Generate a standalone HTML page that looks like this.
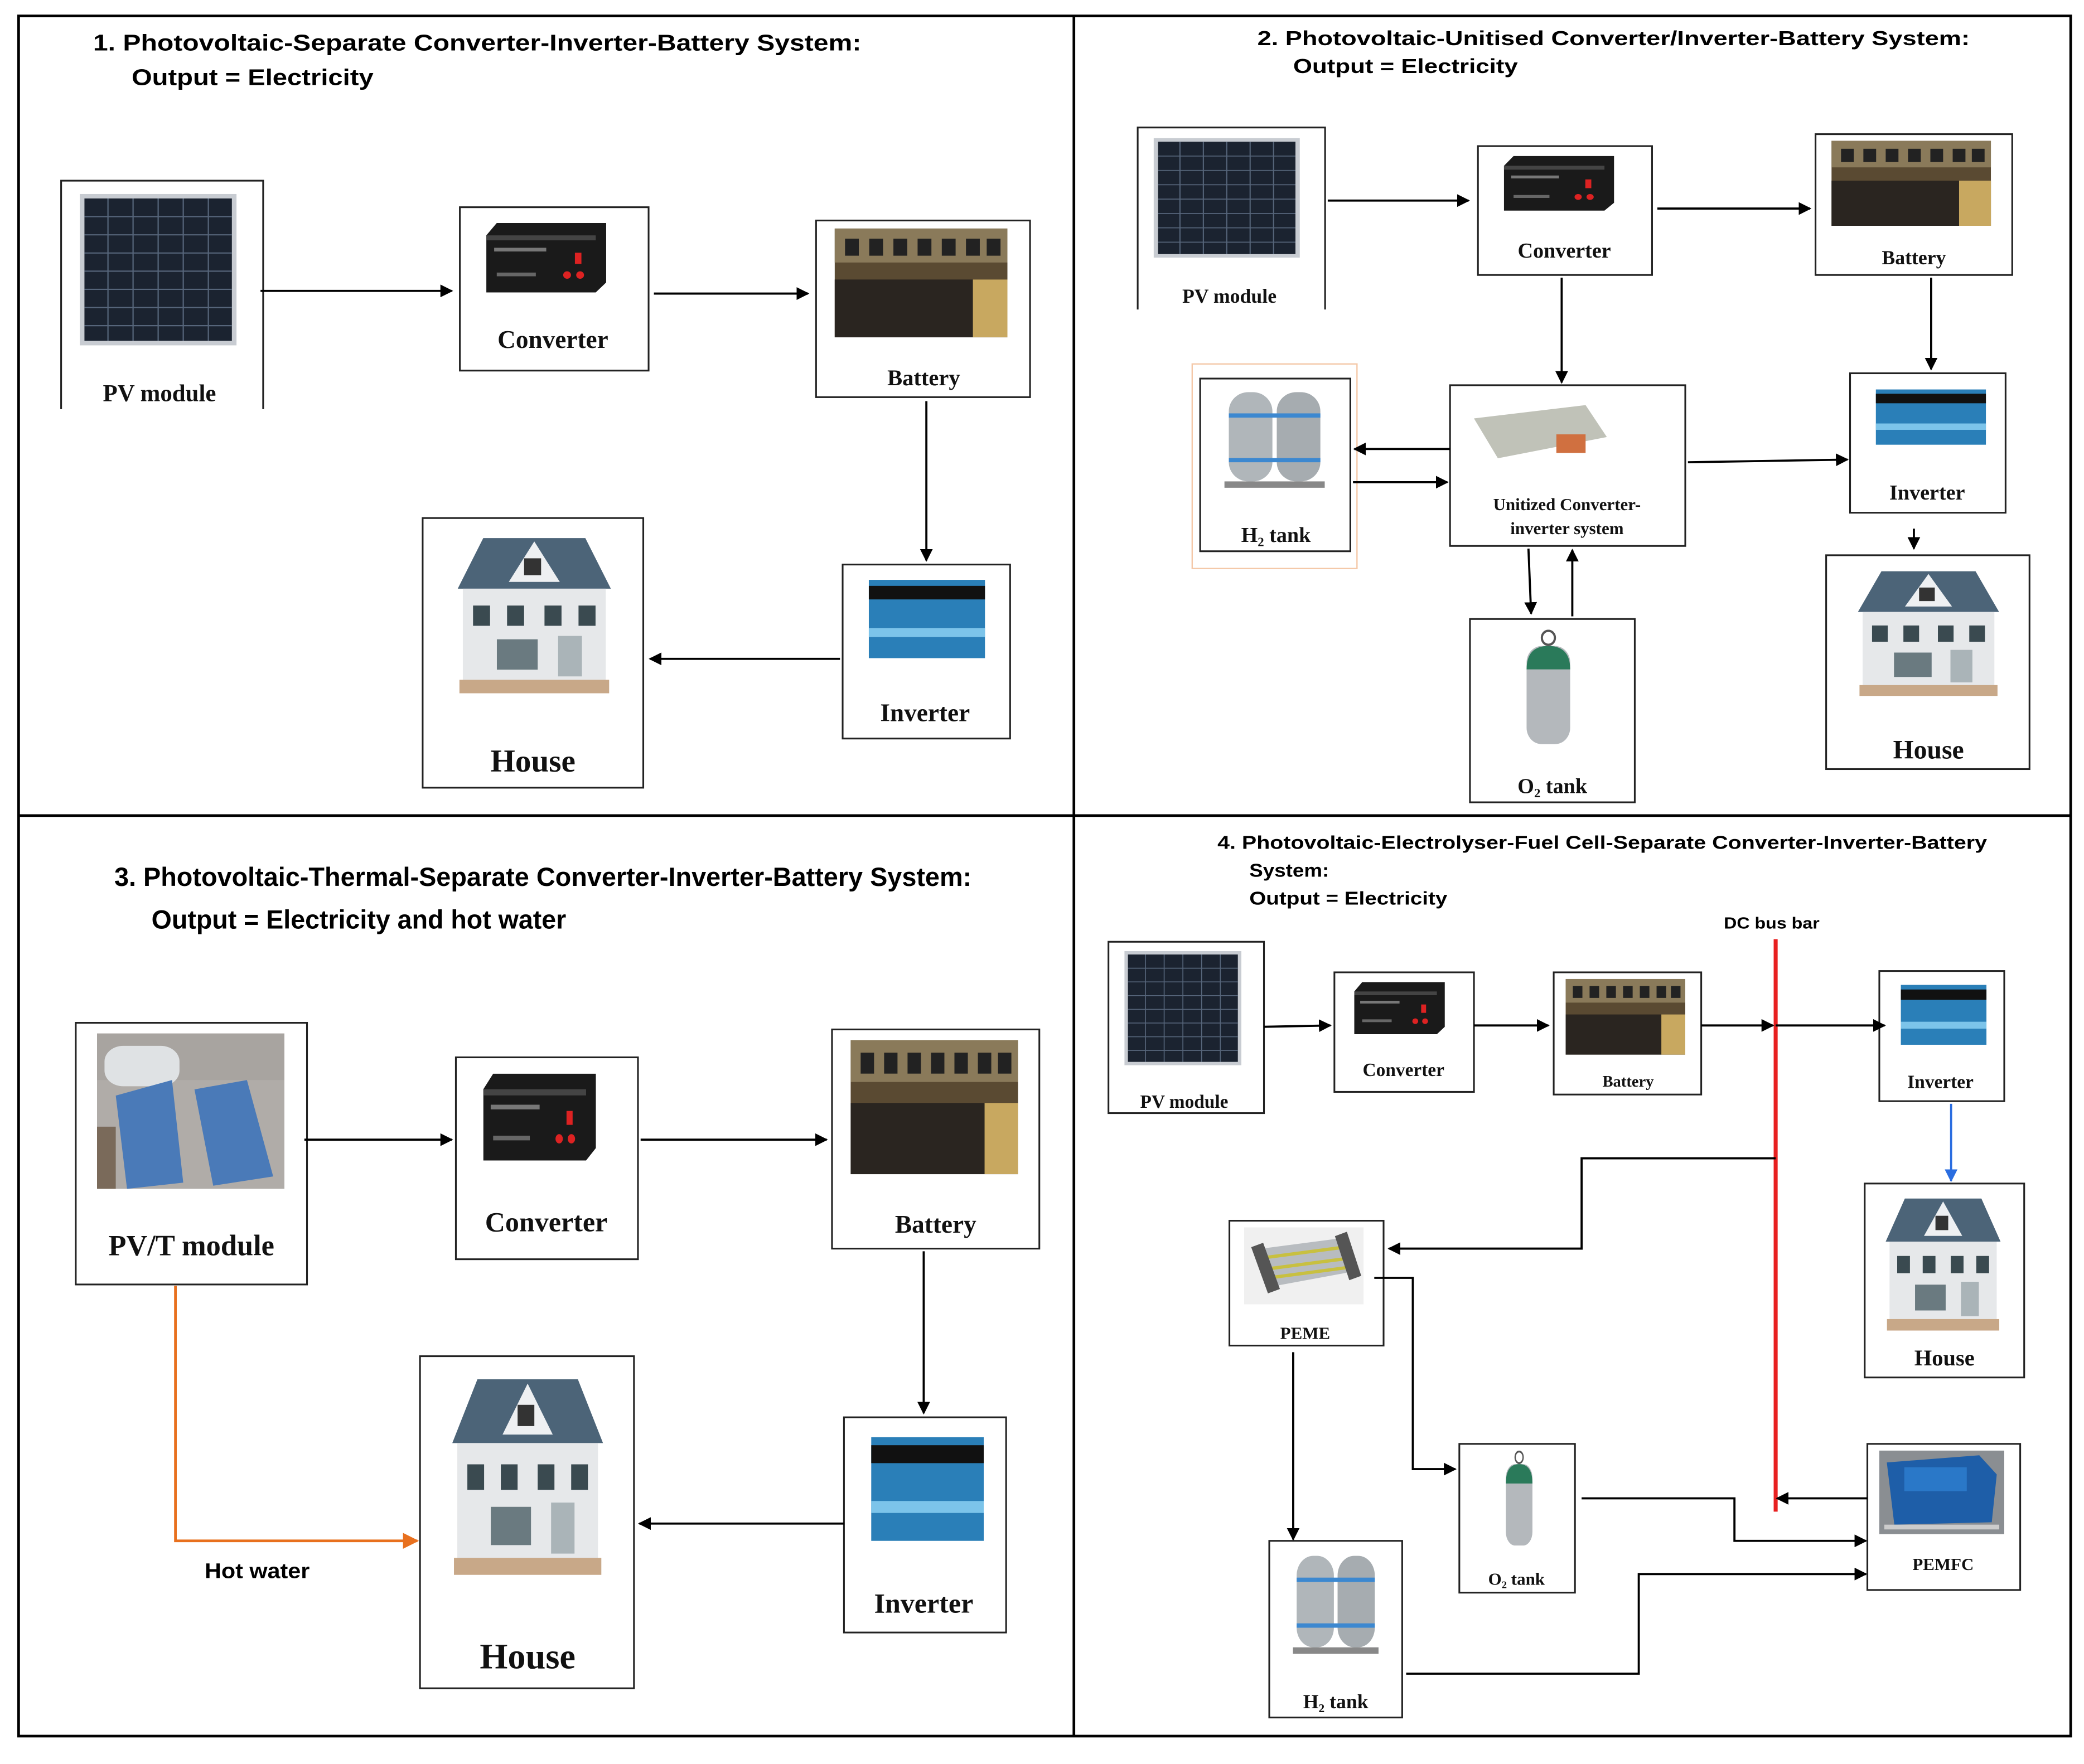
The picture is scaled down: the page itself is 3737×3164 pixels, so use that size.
<!DOCTYPE html>
<html><head><meta charset="utf-8"><style>
html,body{margin:0;padding:0;background:#fff}
svg{display:block}
.t{font-family:"Liberation Sans",sans-serif;font-weight:bold;fill:#000}
.s{font-family:"Liberation Serif",serif;font-weight:bold;fill:#111;text-anchor:middle}
.b{fill:#fff;stroke:#222;stroke-width:1.3}
.l{fill:none;stroke:#000;stroke-width:1.6}
</style></head><body>
<svg width="3737" height="3164" viewBox="0 0 1568 1328" preserveAspectRatio="none" xmlns="http://www.w3.org/2000/svg">
<defs>
<marker id="a" viewBox="0 0 10 10" refX="9" refY="5" markerWidth="6" markerHeight="6" orient="auto"><path d="M0,0L10,5L0,10z" fill="#000"/></marker>
<marker id="ab" viewBox="0 0 10 10" refX="9" refY="5" markerWidth="6" markerHeight="6" orient="auto"><path d="M0,0L10,5L0,10z" fill="#2a6de0"/></marker>
<marker id="ao" viewBox="0 0 10 10" refX="9" refY="5" markerWidth="6" markerHeight="6" orient="auto"><path d="M0,0L10,5L0,10z" fill="#e8701e"/></marker>
<symbol id="pv" viewBox="0 0 100 100" preserveAspectRatio="none">
<rect width="100" height="100" fill="#c8ccd2"/><rect x="3" y="3" width="94" height="94" fill="#1b2330"/>
<g stroke="#56657a" stroke-width="0.8"><path d="M3,15H97M3,27H97M3,39H97M3,51H97M3,63H97M3,75H97M3,87H97M18,3V97M34,3V97M50,3V97M66,3V97M82,3V97"/></g>
</symbol>
<symbol id="cv" viewBox="0 0 100 60" preserveAspectRatio="none">
<rect width="100" height="60" fill="#fff"/><polygon points="4,12 12,2 96,2 96,50 88,58 4,58" fill="#1a1a1a"/><rect x="4" y="12" width="84" height="4" fill="#444"/>
<rect x="10" y="22" width="40" height="3" fill="#777"/><circle cx="66" cy="44" r="3" fill="#d22"/><circle cx="76" cy="44" r="3" fill="#d22"/><rect x="72" y="26" width="5" height="9" fill="#d22"/><rect x="12" y="42" width="30" height="3" fill="#666"/>
</symbol>
<symbol id="bt" viewBox="0 0 100 64" preserveAspectRatio="none">
<rect width="100" height="64" fill="#5a4a32"/><rect y="0" width="100" height="20" fill="#8a7a5a"/>
<g fill="#222"><rect x="6" y="6" width="8" height="10"/><rect x="20" y="6" width="8" height="10"/><rect x="34" y="6" width="8" height="10"/><rect x="48" y="6" width="8" height="10"/><rect x="62" y="6" width="8" height="10"/><rect x="76" y="6" width="8" height="10"/><rect x="88" y="6" width="8" height="10"/></g>
<rect y="30" width="100" height="34" fill="#2a2520"/><rect x="80" y="30" width="20" height="34" fill="#c8a860"/>
</symbol>
<symbol id="iv" viewBox="0 0 100 60" preserveAspectRatio="none">
<rect width="100" height="60" fill="#fff"/><rect x="6" y="4" width="92" height="52" fill="#2a7fb8"/><rect x="6" y="8" width="92" height="9" fill="#111"/><rect x="6" y="36" width="92" height="6" fill="#7cc4ea"/>
</symbol>
<symbol id="hs" viewBox="0 0 100 100" preserveAspectRatio="none">
<rect width="100" height="100" fill="#fff"/><polygon points="5,34 20,4 80,4 95,34" fill="#4c6478"/><polygon points="35,30 50,6 65,30" fill="#eef0f2"/><rect x="44" y="16" width="10" height="10" fill="#333"/>
<rect x="8" y="34" width="84" height="56" fill="#e6e8ea"/><g fill="#3a4a50"><rect x="14" y="44" width="10" height="12"/><rect x="34" y="44" width="10" height="12"/><rect x="56" y="44" width="10" height="12"/><rect x="76" y="44" width="10" height="12"/></g>
<rect x="28" y="64" width="24" height="18" fill="#6a7a80"/><rect x="64" y="62" width="14" height="24" fill="#aab4b8"/><rect x="6" y="88" width="88" height="8" fill="#c8a888"/>
</symbol>
<symbol id="h2" viewBox="0 0 100 100" preserveAspectRatio="none">
<rect width="100" height="100" fill="#fff"/><rect x="8" y="4" width="40" height="84" rx="18" fill="#b0b6ba"/><rect x="52" y="4" width="40" height="84" rx="18" fill="#a6acb0"/>
<rect x="8" y="24" width="84" height="4" fill="#3c88d0"/><rect x="8" y="66" width="84" height="4" fill="#3c88d0"/><rect x="4" y="88" width="92" height="6" fill="#888"/>
</symbol>
<symbol id="o2" viewBox="0 0 100 100" preserveAspectRatio="none">
<rect width="100" height="100" fill="#fff"/><rect x="30" y="14" width="40" height="84" rx="14" fill="#b4b8bc"/><path d="M30,34 Q30,14 50,14 Q70,14 70,34z" fill="#2a7a5a"/><circle cx="50" cy="7" r="6" fill="none" stroke="#555" stroke-width="2"/>
</symbol>
<symbol id="pe" viewBox="0 0 100 70" preserveAspectRatio="none">
<rect width="100" height="70" fill="#f0f0f0"/><polygon points="10,20 80,10 92,40 22,54" fill="#b8bcc0"/><path d="M14,28 L84,18 M18,38 L88,28 M20,46 L90,36" stroke="#c8c040" stroke-width="3"/><polygon points="6,18 16,14 30,56 20,60" fill="#555"/><polygon points="76,8 86,4 98,44 88,48" fill="#555"/>
</symbol>
<symbol id="fc" viewBox="0 0 100 70" preserveAspectRatio="none">
<rect width="100" height="70" fill="#8a8e92"/><polygon points="6,10 80,4 94,20 90,60 12,62" fill="#1e5ea8"/><rect x="20" y="14" width="50" height="20" fill="#2a78c8"/><rect x="4" y="62" width="92" height="4" fill="#ccc"/>
</symbol>
<symbol id="pt" viewBox="0 0 100 100" preserveAspectRatio="none">
<rect width="100" height="100" fill="#b0aca8"/><rect width="100" height="30" fill="#a8a4a0"/><rect x="4" y="8" width="40" height="26" rx="10" fill="#dfe2e4"/>
<polygon points="10,40 40,30 46,96 16,100" fill="#4a7ab8"/><polygon points="52,36 80,30 94,92 62,98" fill="#4a7ab8"/><rect y="60" width="10" height="40" fill="#7a6a5a"/>
</symbol>
</defs>
<rect x="0" y="0" width="1568" height="1328" fill="#fff"/>
<rect x="14" y="12" width="1544" height="1295" fill="none" stroke="#000" stroke-width="2"/>
<line x1="808" y1="12" x2="808" y2="1307" stroke="#000" stroke-width="2"/>
<line x1="14" y1="614" x2="1558" y2="614" stroke="#000" stroke-width="2"/>

<!-- Panel 1 -->
<text class="t" x="70" y="38" font-size="17" textLength="578" lengthAdjust="spacingAndGlyphs">1.  Photovoltaic-Separate Converter-Inverter-Battery System:</text>
<text class="t" x="99" y="64" font-size="17" textLength="182" lengthAdjust="spacingAndGlyphs">Output = Electricity</text>
<path d="M46,308V136H198V308" class="b" fill="none"/>
<use href="#pv" x="60" y="146" width="118" height="114"/>
<text class="s" x="120" y="302" font-size="18">PV module</text>
<rect class="b" x="346" y="156" width="142" height="123"/><use href="#cv" x="362" y="166" width="98" height="56"/>
<text class="s" x="416" y="262" font-size="19">Converter</text>
<rect class="b" x="614" y="166" width="161" height="133"/><use href="#bt" x="628" y="172" width="130" height="82"/>
<text class="s" x="695" y="290" font-size="17">Battery</text>
<rect class="b" x="634" y="425" width="126" height="131"/><use href="#iv" x="648" y="432" width="95" height="68"/>
<text class="s" x="696" y="543" font-size="19">Inverter</text>
<rect class="b" x="318" y="390" width="166" height="203"/><use href="#hs" x="338" y="400" width="128" height="127"/>
<text class="s" x="401" y="581" font-size="24">House</text>
<line class="l" x1="196" y1="219" x2="340" y2="219" marker-end="url(#a)"/>
<line class="l" x1="492" y1="221" x2="608" y2="221" marker-end="url(#a)"/>
<line class="l" x1="697" y1="302" x2="697" y2="422" marker-end="url(#a)"/>
<line class="l" x1="632" y1="496" x2="489" y2="496" marker-end="url(#a)"/>

<!-- Panel 2 -->
<text class="t" x="946" y="34" font-size="15" textLength="536" lengthAdjust="spacingAndGlyphs">2.  Photovoltaic-Unitised Converter/Inverter-Battery System:</text>
<text class="t" x="973" y="55" font-size="15" textLength="169" lengthAdjust="spacingAndGlyphs">Output = Electricity</text>
<path d="M856,233V96H997V233" class="b" fill="none"/>
<use href="#pv" x="868" y="104" width="110" height="90"/>
<text class="s" x="925" y="228" font-size="15">PV module</text>
<rect class="b" x="1112" y="110" width="131" height="97"/><use href="#cv" x="1128" y="116" width="90" height="44"/>
<text class="s" x="1177" y="194" font-size="16">Converter</text>
<rect class="b" x="1366" y="101" width="148" height="106"/><use href="#bt" x="1378" y="106" width="120" height="64"/>
<text class="s" x="1440" y="199" font-size="15">Battery</text>
<rect class="b" x="1091" y="290" width="177" height="121"/>
<g transform="translate(1103,295)"><rect width="110" height="62" fill="#fff"/><polygon points="6,20 90,10 106,34 24,50" fill="#c0c2b8"/><rect x="68" y="32" width="22" height="14" fill="#d07040"/></g>
<text class="s" x="1179" y="384" font-size="13">Unitized Converter-</text>
<text class="s" x="1179" y="402" font-size="13">inverter system</text>
<rect x="897" y="274" width="124" height="154" fill="none" stroke="#f4c8a8" stroke-width="1"/>
<rect class="b" x="903" y="285" width="113" height="130"/><use href="#h2" x="918" y="292" width="82" height="80"/>
<text class="s" x="960" y="408" font-size="16">H₂ tank</text>
<rect class="b" x="1392" y="281" width="117" height="105"/><use href="#iv" x="1406" y="290" width="90" height="48"/>
<text class="s" x="1450" y="376" font-size="16">Inverter</text>
<rect class="b" x="1374" y="418" width="153" height="161"/><use href="#hs" x="1392" y="426" width="118" height="102"/>
<text class="s" x="1451" y="571" font-size="20">House</text>
<rect class="b" x="1106" y="466" width="124" height="138"/><use href="#o2" x="1124" y="474" width="82" height="88"/>
<text class="s" x="1168" y="597" font-size="16">O₂ tank</text>
<line class="l" x1="999" y1="151" x2="1105" y2="151" marker-end="url(#a)"/>
<line class="l" x1="1247" y1="157" x2="1362" y2="157" marker-end="url(#a)"/>
<line class="l" x1="1175" y1="209" x2="1175" y2="288" marker-end="url(#a)"/>
<line class="l" x1="1091" y1="338" x2="1019" y2="338" marker-end="url(#a)"/>
<line class="l" x1="1018" y1="363" x2="1089" y2="363" marker-end="url(#a)"/>
<line class="l" x1="1453" y1="209" x2="1453" y2="278" marker-end="url(#a)"/>
<line class="l" x1="1270" y1="348" x2="1390" y2="346" marker-end="url(#a)"/>
<line class="l" x1="1440" y1="398" x2="1440" y2="413" marker-end="url(#a)"/>
<line class="l" x1="1150" y1="413" x2="1152" y2="462" marker-end="url(#a)"/>
<line class="l" x1="1183" y1="464" x2="1183" y2="414" marker-end="url(#a)"/>

<!-- Panel 3 -->
<text class="t" x="86" y="667" font-size="20" textLength="645" lengthAdjust="spacingAndGlyphs">3.  Photovoltaic-Thermal-Separate Converter-Inverter-Battery System:</text>
<text class="t" x="114" y="699" font-size="20" textLength="312" lengthAdjust="spacingAndGlyphs">Output = Electricity and hot water</text>
<rect class="b" x="57" y="770" width="174" height="197"/><use href="#pt" x="73" y="778" width="141" height="117"/>
<text class="s" x="144" y="945" font-size="22">PV/T module</text>
<rect class="b" x="343" y="796" width="137" height="152"/><use href="#cv" x="360" y="806" width="92" height="70"/>
<text class="s" x="411" y="927" font-size="21">Converter</text>
<rect class="b" x="626" y="775" width="156" height="165"/><use href="#bt" x="640" y="783" width="126" height="101"/>
<text class="s" x="704" y="928" font-size="19">Battery</text>
<rect class="b" x="635" y="1067" width="122" height="162"/><use href="#iv" x="650" y="1076" width="92" height="90"/>
<text class="s" x="695" y="1214" font-size="21">Inverter</text>
<rect class="b" x="316" y="1021" width="161" height="250"/><use href="#hs" x="334" y="1032" width="126" height="160"/>
<text class="s" x="397" y="1256" font-size="27">House</text>
<line class="l" x1="229" y1="858" x2="340" y2="858" marker-end="url(#a)"/>
<line class="l" x1="482" y1="858" x2="622" y2="858" marker-end="url(#a)"/>
<line class="l" x1="695" y1="942" x2="695" y2="1064" marker-end="url(#a)"/>
<line class="l" x1="635" y1="1147" x2="481" y2="1147" marker-end="url(#a)"/>
<path d="M132,968V1160H314" fill="none" stroke="#e8701e" stroke-width="2" marker-end="url(#ao)"/>
<text class="t" x="154" y="1188" font-size="16" textLength="79" lengthAdjust="spacingAndGlyphs">Hot water</text>

<!-- Panel 4 -->
<text class="t" x="916" y="639" font-size="14" textLength="579" lengthAdjust="spacingAndGlyphs">4.  Photovoltaic-Electrolyser-Fuel Cell-Separate Converter-Inverter-Battery</text>
<text class="t" x="940" y="660" font-size="14" textLength="60" lengthAdjust="spacingAndGlyphs">System:</text>
<text class="t" x="940" y="681" font-size="14" textLength="149" lengthAdjust="spacingAndGlyphs">Output = Electricity</text>
<text class="t" x="1297" y="699" font-size="12" textLength="72" lengthAdjust="spacingAndGlyphs">DC bus bar</text>
<line x1="1336" y1="707" x2="1336" y2="1138" stroke="#e82020" stroke-width="3"/>
<rect class="b" x="834" y="709" width="117" height="129"/><use href="#pv" x="846" y="716" width="88" height="86"/>
<text class="s" x="891" y="834" font-size="14">PV module</text>
<rect class="b" x="1004" y="732" width="105" height="90"/><use href="#cv" x="1016" y="738" width="74" height="42"/>
<text class="s" x="1056" y="810" font-size="14">Converter</text>
<rect class="b" x="1169" y="732" width="111" height="92"/><use href="#bt" x="1178" y="737" width="90" height="57"/>
<text class="s" x="1225" y="818" font-size="12">Battery</text>
<rect class="b" x="1414" y="731" width="94" height="98"/><use href="#iv" x="1426" y="738" width="70" height="52"/>
<text class="s" x="1460" y="819" font-size="14">Inverter</text>
<rect class="b" x="1403" y="891" width="120" height="146"/><use href="#hs" x="1414" y="898" width="96" height="108"/>
<text class="s" x="1463" y="1028" font-size="17">House</text>
<rect class="b" x="925" y="919" width="116" height="94"/><use href="#pe" x="936" y="924" width="90" height="58"/>
<text class="s" x="982" y="1008" font-size="13">PEME</text>
<rect class="b" x="1098" y="1087" width="87" height="112"/><use href="#o2" x="1118" y="1092" width="50" height="73"/>
<text class="s" x="1141" y="1193" font-size="13">O₂ tank</text>
<rect class="b" x="955" y="1160" width="100" height="133"/><use href="#h2" x="970" y="1168" width="70" height="82"/>
<text class="s" x="1005" y="1286" font-size="15">H₂ tank</text>
<rect class="b" x="1405" y="1087" width="115" height="110"/><use href="#fc" x="1414" y="1092" width="94" height="63"/>
<text class="s" x="1462" y="1182" font-size="13">PEMFC</text>
<line class="l" x1="951" y1="773" x2="1001" y2="772" marker-end="url(#a)"/>
<line class="l" x1="1109" y1="772" x2="1165" y2="772" marker-end="url(#a)"/>
<line class="l" x1="1280" y1="772" x2="1334" y2="772" marker-end="url(#a)"/>
<line class="l" x1="1336" y1="772" x2="1418" y2="772" marker-end="url(#a)"/>
<line x1="1468" y1="831" x2="1468" y2="889" stroke="#2a6de0" stroke-width="1.6" marker-end="url(#ab)"/>
<path class="l" d="M1336,872H1190V940H1045" marker-end="url(#a)"/>
<path class="l" d="M1034,962H1063V1106H1095" marker-end="url(#a)"/>
<line class="l" x1="973" y1="1018" x2="973" y2="1159" marker-end="url(#a)"/>
<line class="l" x1="1405" y1="1128" x2="1337" y2="1128" marker-end="url(#a)"/>
<path class="l" d="M1190,1128H1305V1160H1404" marker-end="url(#a)"/>
<path class="l" d="M1058,1260H1233V1185H1404" marker-end="url(#a)"/>
</svg>
</body></html>
